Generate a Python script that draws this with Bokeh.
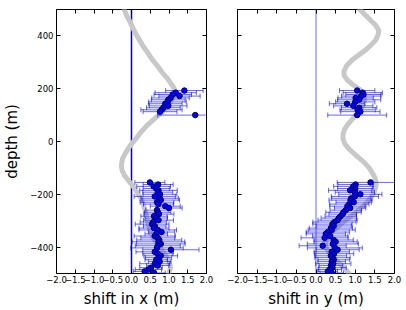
import numpy as np
from bokeh.plotting import figure
from bokeh.layouts import row
from bokeh.models import FixedTicker, LinearAxis, Span, Range1d
from bokeh.embed import file_html
from bokeh.resources import INLINE

# ---------------- data ----------------
x_ticks = [-2.0, -1.5, -1.0, -0.5, 0.0, 0.5, 1.0, 1.5, 2.0]
x_tick_labels = ["−2.0", "−1.5", "−1.0", "−0.5", "0.0", "0.5", "1.0", "1.5", "2.0"]
y_ticks = [-400, -200, 0, 200, 400]
y_tick_labels = ["−400", "−200", "0", "200", "400"]

depth_upper = [193, 185, 178, 172, 165, 158, 150, 143, 135, 128, 120, 113, 100]
depth_lower = [-155, -163, -170, -178, -185, -192, -200,
               -208, -215, -222, -230, -237, -245, -252,
               -260, -268, -275, -283, -290, -298, -305,
               -313, -320, -328, -335, -343, -350, -358,
               -365, -373, -380, -388, -395, -403, -410,
               -418, -425, -433, -440, -448, -455, -463,
               -470, -478, -485, -492, -498]

shift_x_upper = [1.41, 1.18, 1.10, 1.28, 1.04, 0.98, 0.96, 0.90, 0.98, 0.85, 0.80, 0.76, 1.70]
err_x_upper = [0.50, 0.55, 0.50, 0.55, 0.50, 0.45, 0.50, 0.45, 0.50, 0.45, 0.55, 0.45, 1.00]
shift_x_lower = [0.49, 0.71, 0.59, 0.66, 0.72, 0.70, 0.76,
                 0.62, 0.75, 0.78, 0.68, 0.72, 0.90, 1.00,
                 0.68, 0.70, 0.73, 0.60, 0.66, 0.72, 0.58,
                 0.55, 0.62, 0.60, 0.70, 0.80, 0.66, 0.62,
                 0.70, 0.74, 0.72, 0.78, 0.70, 0.68, 1.05,
                 0.62, 0.70, 0.78, 0.72, 0.66, 0.75, 0.62,
                 0.70, 0.52, 0.45, 0.35, 0.60]
err_x_lower = [0.40, 0.40, 0.45, 0.35, 0.50, 0.40, 0.45, 0.55, 0.50, 0.50,
               0.45, 0.40, 0.40, 0.35, 0.30, 0.35, 0.40, 0.35, 0.30, 0.40,
               0.35, 0.45, 0.30, 0.40, 0.50, 0.35, 0.30, 0.55, 0.45, 0.60,
               0.70, 0.65, 0.60, 0.70, 0.75, 0.50, 0.40, 0.45, 0.35, 0.30,
               0.30, 0.40, 0.30, 0.30, 0.35, 0.30, 0.30]

shift_y_upper = [1.05, 1.19, 1.21, 1.15, 1.01, 1.10, 1.00, 0.79, 0.95, 1.10, 1.06, 1.13, 1.05]
err_y_upper = [0.45, 0.50, 0.45, 0.50, 0.45, 0.55, 0.50, 0.45, 0.50, 0.45, 0.45, 0.50, 0.75]
shift_y_lower = [1.39, 1.01, 0.95, 1.00, 0.87, 0.99, 1.13,
                 0.99, 0.90, 0.88, 0.96, 0.85, 0.80, 0.87,
                 0.76, 0.70, 0.68, 0.63, 0.58, 0.55, 0.47,
                 0.42, 0.45, 0.38, 0.40, 0.30, 0.25, 0.36,
                 0.22, 0.45, 0.50, 0.43, 0.17, 0.48, 0.55,
                 0.40, 0.46, 0.38, 0.42, 0.45, 0.40, 0.44,
                 0.38, 0.42, 0.35, 0.30, 0.40]
err_y_lower = [0.85, 0.45, 0.50, 0.45, 0.55, 0.50, 0.55,
               0.60, 0.50, 0.55, 0.45, 0.50, 0.45, 0.40,
               0.40, 0.45, 0.35, 0.40, 0.45, 0.50, 0.55,
               0.50, 0.45, 0.55, 0.60, 0.55, 0.50, 0.45,
               0.60, 0.50, 0.55, 0.65, 0.60, 0.70, 0.55,
               0.45, 0.50, 0.40, 0.45, 0.40, 0.35, 0.45,
               0.30, 0.35, 0.30, 0.25, 0.30]

# model curves (grey)
curve_x_depth = [500, 480, 459, 435, 409, 385, 359, 335, 309, 285, 259, 240, 222, 210,
                 197, 185, 172, 155, 134, 115, 97, 78, 59, 35, 9, -15, -41, -65, -91,
                 -110, -128, -145, -165, -190, -215, -240, -265, -290, -315, -340,
                 -365, -390, -415, -435, -453, -478, -500]
curve_x_shift = [-0.19, -0.14, -0.06, 0.02, 0.11, 0.21, 0.32, 0.44, 0.56, 0.70, 0.83, 0.95,
                 1.04, 1.10, 1.15, 1.15, 1.13, 1.06, 0.96, 0.84, 0.70, 0.55, 0.40, 0.25,
                 0.11, -0.03, -0.15, -0.24, -0.27, -0.25, -0.19, -0.10, 0.02, 0.14, 0.25,
                 0.32, 0.37, 0.41, 0.45, 0.50, 0.58, 0.70, 0.83, 0.93, 1.00, 1.04, 1.00]

curve_y_depth = [500, 480, 459, 440, 421, 403, 384, 365, 346, 328, 309, 287, 265, 250, 234,
                 215, 197, 178, 159, 140, 122, 103, 84, 65, 47, 28, 9, -10, -28, -53, -78,
                 -103, -128, -146, -165, -190, -215, -240, -265, -290, -315, -340, -365,
                 -380, -396, -412, -428, -445, -465, -483, -500]
curve_y_shift = [1.12, 1.25, 1.39, 1.52, 1.60, 1.58, 1.52, 1.40, 1.26, 1.09, 0.92, 0.78,
                 0.71, 0.72, 0.79, 0.94, 1.12, 1.21, 1.24, 1.21, 1.13, 1.03, 0.92, 0.81,
                 0.73, 0.69, 0.69, 0.74, 0.84, 1.02, 1.22, 1.37, 1.47, 1.52, 1.53, 1.49,
                 1.39, 1.24, 1.05, 0.83, 0.62, 0.42, 0.28, 0.24, 0.24, 0.29, 0.37, 0.48,
                 0.62, 0.74, 0.84]

depth = depth_upper + depth_lower
shift_x = shift_x_upper + shift_x_lower
err_x = err_x_upper + err_x_lower
shift_y = shift_y_upper + shift_y_lower
err_y = err_y_upper + err_y_lower

FONT = "DejaVu Sans"


def style_axis(ax, ticks, labels, show_labels):
    ax.ticker = FixedTicker(ticks=ticks)
    ax.axis_line_color = None
    ax.major_tick_in = 4
    ax.major_tick_out = 0
    ax.major_tick_line_color = "black"
    ax.major_tick_line_width = 1
    ax.minor_tick_line_color = None
    if show_labels:
        ax.major_label_overrides = dict(zip(ticks, labels))
        ax.major_label_text_font = FONT
        ax.major_label_text_font_size = "8.5px"
        ax.major_label_text_color = "black"
    else:
        ax.major_label_overrides = {t: "" for t in ticks}
        ax.major_label_text_color = None
        ax.major_label_standoff = 0


def panel(shift, err, c_depth, c_shift, xlabel, show_ylabels, width, bl, br,
          vline_color, vline_width):
    p = figure(width=width, height=310, output_backend="svg", toolbar_location=None,
               x_range=Range1d(-2.0, 2.0), y_range=Range1d(-500, 500),
               min_border_left=bl, min_border_right=br, min_border_top=9,
               min_border_bottom=34)
    p.xgrid.visible = False
    p.ygrid.visible = False
    p.outline_line_color = "black"
    p.outline_line_width = 1
    p.background_fill_color = "white"
    p.border_fill_color = "white"

    style_axis(p.xaxis[0], x_ticks, x_tick_labels, True)
    p.xaxis[0].major_label_standoff = 2
    p.xaxis[0].axis_label = xlabel
    p.xaxis[0].axis_label_text_font = FONT
    p.xaxis[0].axis_label_text_font_size = "15px"
    p.xaxis[0].axis_label_text_font_style = "normal"
    p.xaxis[0].axis_label_text_color = "black"
    p.xaxis[0].axis_label_standoff = 4

    style_axis(p.yaxis[0], y_ticks, y_tick_labels, show_ylabels)
    if show_ylabels:
        p.yaxis[0].major_label_standoff = 3
        p.yaxis[0].axis_label = "depth (m)"
        p.yaxis[0].axis_label_text_font = FONT
        p.yaxis[0].axis_label_text_font_size = "15px"
        p.yaxis[0].axis_label_text_font_style = "normal"
        p.yaxis[0].axis_label_text_color = "black"
        p.yaxis[0].axis_label_standoff = 6

    top = LinearAxis()
    style_axis(top, x_ticks, x_tick_labels, False)
    p.add_layout(top, "above")
    right = LinearAxis()
    style_axis(right, y_ticks, y_tick_labels, False)
    p.add_layout(right, "right")

    p.add_layout(Span(location=0, dimension="height", line_color=vline_color,
                      line_width=vline_width, level="underlay"))

    p.line(c_shift, c_depth, line_color="#c8c8c8", line_width=5,
           line_cap="round", line_join="round")

    lo = [s - e for s, e in zip(shift, err)]
    hi = [s + e for s, e in zip(shift, err)]
    p.segment(x0=lo, y0=depth, x1=hi, y1=depth, line_color="blue", line_alpha=0.6, line_width=1)
    p.scatter(lo, depth, marker="dash", angle=np.pi / 2, size=5,
              line_color="blue", line_alpha=0.6, line_width=1)
    p.scatter(hi, depth, marker="dash", angle=np.pi / 2, size=5,
              line_color="blue", line_alpha=0.6, line_width=1)

    p.scatter(shift, depth, size=5.5, fill_color="#0000ff", line_color="#00005a", line_width=1)
    return p


p1 = panel(shift_x, err_x, curve_x_depth, curve_x_shift, "shift in x (m)", True,
           215, 49, 9, "#0000c8", 1.5)
p2 = panel(shift_y, err_y, curve_y_depth, curve_y_shift, "shift in y (m)", False,
           191, 22, 12, "#6a6aff", 1)

layout = row(p1, p2)
open("out.html", "w").write(file_html(layout, INLINE))
